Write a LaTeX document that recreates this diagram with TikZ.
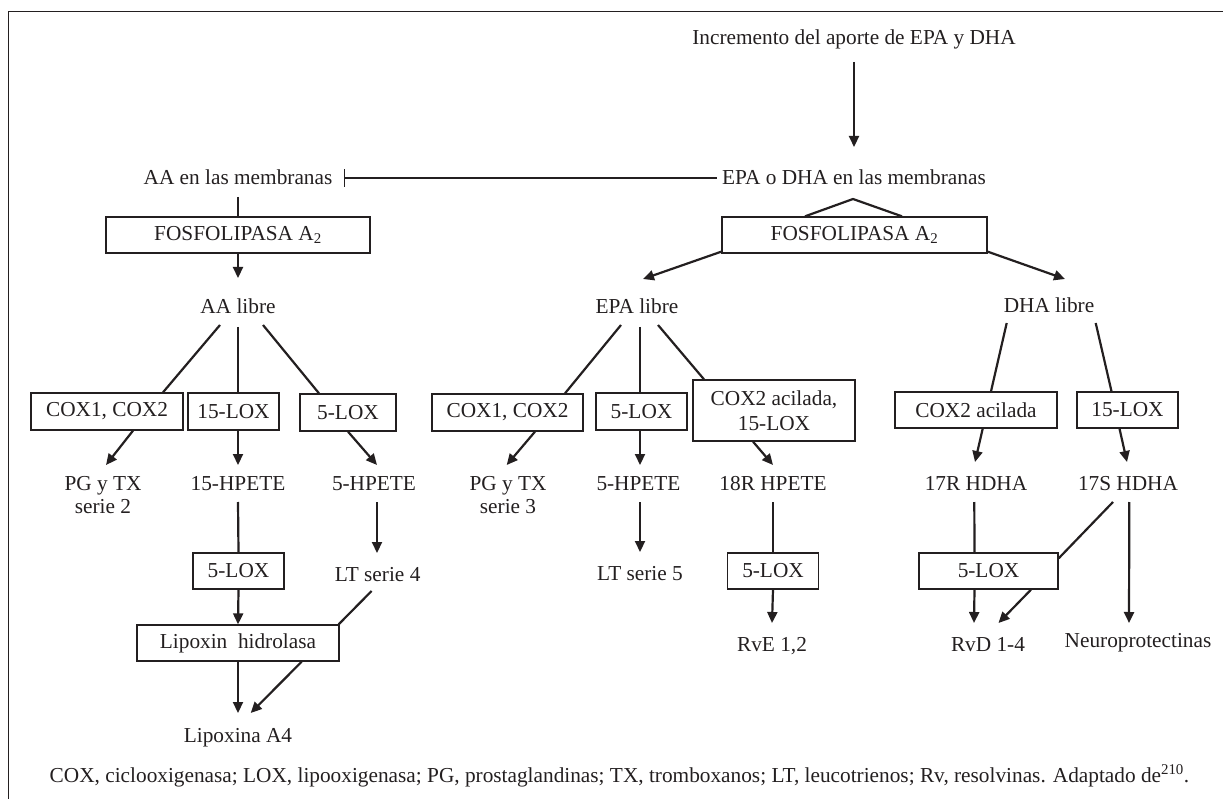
\documentclass[tikz,border=0pt]{standalone}
\usepackage{fontspec}
\setmainfont{Liberation Serif}
\usetikzlibrary{arrows.meta,calc}
\definecolor{ink}{RGB}{35,31,32}
\begin{document}
\begin{tikzpicture}[x=1pt,y=-1pt,
  every node/.style={font=\fontsize{21.3}{23}\selectfont, text=ink, inner sep=0pt},
  lbl/.style={anchor=base, align=center},
  box/.style={draw=ink, line width=1.3pt, minimum height=36pt},
  con/.style={draw=ink, line width=2.2pt},
  arr/.style={con, -{Triangle[length=11pt,width=10pt]}},
  inhib/.style={draw=ink, line width=1.1pt, -{Bar[width=18pt,line width=1.3pt]}},
  frame/.style={draw=ink, line width=1.6pt}
]
\useasboundingbox (0,0) rectangle (1223,799);
\draw[frame] (8.5,799) -- (8.5,11.5) -- (1223,11.5);

% top
\node[lbl] (inc) at (854,45) {Incremento del aporte de EPA y DHA};
\node[lbl] (epam) at (854,185) {EPA o DHA en las membranas};
\node[lbl] (aam) at (238,185) {AA en las membranas};
\node[box, minimum width=264pt] (fl1) at (238,235) {FOSFOLIPASA A\textsubscript{2}};
\node[box, minimum width=265pt] (fl2) at (854.5,235) {FOSFOLIPASA A\textsubscript{2}};

% free acids
\node[lbl] (aal) at (238,314) {AA libre};
\node[lbl] (epal) at (637,314) {EPA libre};
\node[lbl] (dhal) at (1049,313) {DHA libre};

% enzyme boxes row
\node[box, minimum width=152pt, minimum height=37pt] (coxa) at (107,411.5) {COX1, COX2};
\node[box, minimum width=91pt, minimum height=37pt] (loxa15) at (233.5,411.5) {15-LOX};
\node[box, minimum width=96pt, minimum height=37pt] (loxa5) at (348,412.5) {5-LOX};
\node[box, minimum width=151pt, minimum height=37pt] (coxe) at (507.5,412.5) {COX1, COX2};
\node[box, minimum width=91pt, minimum height=37pt] (loxe5) at (641.5,411.5) {5-LOX};
\node[box, minimum width=162pt, minimum height=61pt, align=center] (coxac) at (774,410.5) {COX2 acilada,\\[2pt]15-LOX};
\node[box, minimum width=162pt] (coxd) at (976,410) {COX2 acilada};
\node[box, minimum width=101pt] (loxd15) at (1127.5,410) {15-LOX};

% products row
\node[lbl] (pga) at (103,513) {PG y TX\\serie 2};
\node[lbl] (hp15) at (238,490) {15-HPETE};
\node[lbl] (hp5a) at (374,490) {5-HPETE};
\node[lbl] (pge) at (508,513) {PG y TX\\serie 3};
\node[lbl] (hp5e) at (638.5,490) {5-HPETE};
\node[lbl] (hp18) at (773,490) {18R HPETE};
\node[lbl] (h17r) at (976,490) {17R HDHA};
\node[lbl] (h17s) at (1128,490) {17S HDHA};

% lower part
\node[box, minimum width=91pt] (loxb) at (238.5,571) {5-LOX};
\node[lbl] (lt4) at (377.6,581) {LT serie 4};
\node[box, minimum width=202pt] (lxh) at (238,643) {Lipoxin~~hidrolasa};
\node[lbl] (lxa) at (238,742) {Lipoxina A4};
\node[lbl] (lt5) at (640,580) {LT serie 5};
\node[box, minimum width=91.5pt] (loxr) at (773,571) {5-LOX};
\node[lbl] (rve) at (772,651) {RvE 1,2};
\node[box, minimum width=139pt] (loxd) at (988.5,571) {5-LOX};
\node[lbl] (rvd) at (988,651) {RvD 1-4};
\node[lbl] (np) at (1138,647) {Neuroprotectinas};

\node[lbl] (cap) at (619.5,782) {COX, ciclooxigenasa; LOX, lipooxigenasa; PG, prostaglandinas; TX, tromboxanos; LT, leucotrienos; Rv, resolvinas. Adaptado de\textsuperscript{210}.};

% connectors top
\draw[arr] ($(inc.base)+(0,17)$) -- ($(epam.base)+(0,-38)$);
\draw[inhib] ($(epam.base west)+(-5,-7)$) -- ($(aam.base east)+(11.5,-7)$);
\draw[con] ($(aam.base)+(0,12)$) -- (fl1.north);
\draw[con, line join=miter] ($(fl2.north)+(-49.5,0)$) -- ($(epam.base)+(-1,14)$) -- ($(fl2.north)+(47.5,0)$);
\draw[arr] (fl1.south) -- ($(aal.base)+(0,-36)$);
\draw[arr] ($(fl2.south west)+(0,-2)$) -- ($(epal.base)+(6,-35)$);
\draw[arr] ($(fl2.south east)+(0,-2)$) -- ($(dhal.base)+(16,-34)$);

% AA branch
\draw[con] ($(aal.base)+(-18,11)$) -- ($(coxa.north)+(56,0)$);
\draw[con] ($(aal.base)+(0,13)$) -- ($(loxa15.north)+(4.5,0)$);
\draw[con] ($(aal.base)+(25,11)$) -- ($(loxa5.north)+(-29,0)$);
\draw[arr] ($(coxa.south)+(26,0)$) -- ($(pga.base)+(3,-48)$);
\draw[arr] ($(loxa15.south)+(4.5,0)$) -- ($(hp15.base)+(0,-25)$);
\draw[arr] (loxa5.south) -- ($(hp5a.base)+(3,-25)$);
\draw[con] ($(hp15.base)+(0,12)$) -- (loxb.north);
\draw[arr] ($(hp5a.base)+(3,12)$) -- ($(lt4.base)+(-0.6,-28)$);
\draw[arr] (loxb.south) -- (lxh.north);
\draw[con] ($(lt4.base)+(-6,10)$) -- ($(lxh.north east)+(-1,0)$);
\draw[arr] (lxh.south) -- ($(lxa.base)+(0,-29)$);
\draw[arr] ($(lxh.south)+(63.7,0)$) -- ($(lxa.base)+(12.7,-29)$);

% EPA branch
\draw[con] ($(epal.base)+(-16,11)$) -- ($(coxe.north)+(57.5,0)$);
\draw[con] ($(epal.base)+(3,13)$) -- ($(loxe5.north)+(-1.5,0)$);
\draw[con] ($(epal.base)+(21,11)$) -- ($(coxac.north)+(-70,0)$);
\draw[arr] ($(coxe.south)+(27.5,0)$) -- ($(pge.base)+(-1.3,-48)$);
\draw[arr] ($(loxe5.south)+(-1.5,0)$) -- ($(hp5e.base)+(1.5,-25)$);
\draw[arr] ($(coxac.south)+(-21,0)$) -- ($(hp18.base)+(0,-25)$);
\draw[arr] ($(hp5e.base)+(1.5,12)$) -- ($(lt5.base)+(0,-28)$);
\draw[con] ($(hp18.base)+(0,12)$) -- (loxr.north);
\draw[arr] (loxr.south) -- ($(rve.base)+(0,-28)$);

% DHA branch
\draw[con] ($(dhal.base)+(-42.3,10)$) -- ($(coxd.north)+(15,0)$);
\draw[con] ($(dhal.base)+(46.7,10)$) -- ($(loxd15.north)+(-16,0)$);
\draw[arr] ($(coxd.south)+(6.7,0)$) -- ($(h17r.base)+(-1,-28)$);
\draw[arr] ($(loxd15.south)+(-8,0)$) -- ($(h17s.base)+(-1,-28)$);
\draw[con] ($(h17r.base)+(-1.7,12)$) -- ($(loxd.north)+(-14,0)$);
\draw[con] ($(h17s.base)+(-15,12)$) -- ($(loxd.north east)+(0,6)$);
\draw[arr] ($(h17s.base)+(1.3,12)$) -- ($(np.base)+(-9,-24)$);
\draw[arr] ($(loxd.south)+(-14,0)$) -- ($(rvd.base)+(-14,-28)$);
\draw[arr] ($(loxd.south)+(42.5,0)$) -- ($(rvd.base)+(10.5,-28)$);
\end{tikzpicture}
\end{document}
